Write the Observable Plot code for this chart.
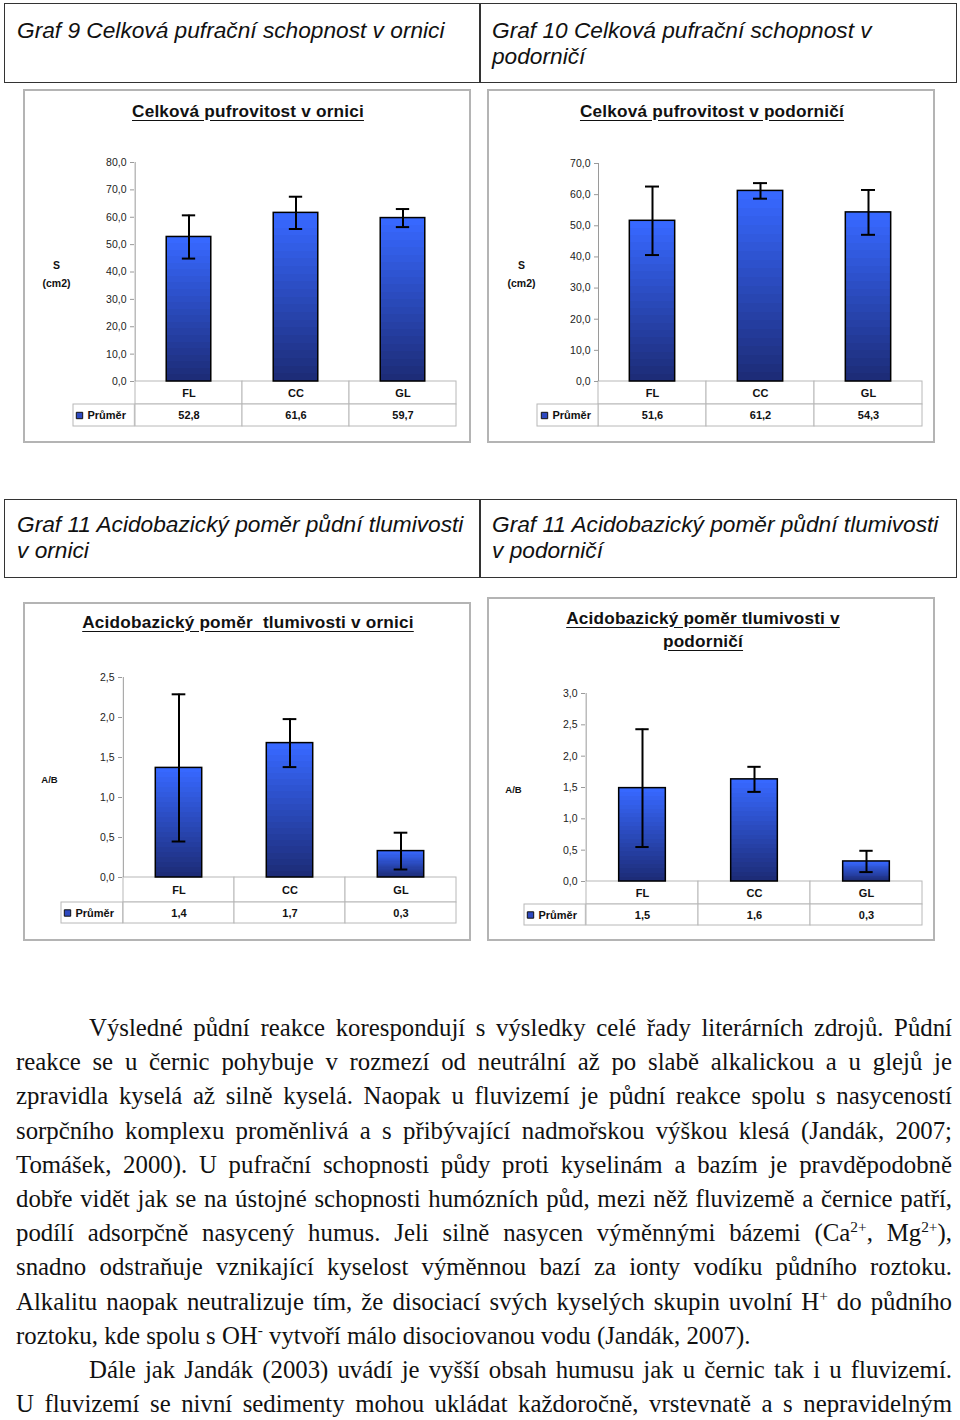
<!DOCTYPE html>
<html>
<head>
<meta charset="utf-8">
<script src="https://cdn.jsdelivr.net/npm/d3@7"></script>
<script src="https://cdn.jsdelivr.net/npm/@observablehq/plot@0.6"></script>
<style>
  html, body { margin: 0; padding: 0; background: #fff; }
  body { width: 960px; height: 1420px; position: relative; overflow: hidden; font-family: "Liberation Sans", Arial, sans-serif; }
  .hdr { position: absolute; box-sizing: border-box; border: 1.5px solid #333; font-style: italic; font-size: 22.7px; line-height: 26px; color: #111; padding-left: 12px; }
  .frame { position: absolute; box-sizing: border-box; border: 2px solid #b4b4b4; }
  .ctitle { position: absolute; font-weight: bold; font-size: 17.2px; letter-spacing: 0.2px; text-decoration: underline; text-underline-offset: 3px; text-align: center; color: #111; line-height: 23px; }
  .para { position: absolute; left: 16px; width: 936px; font-family: "Liberation Serif", "Times New Roman", serif; font-size: 24.8px; line-height: 34.2px; color: #111; }
  .para div { text-align: justify; text-align-last: justify; white-space: nowrap; word-spacing: -2px; }
  .para div.last { text-align-last: left; word-spacing: 0; }
  .para div.ind { padding-left: 73px; }
  sup { font-size: 0.62em; line-height: 0; vertical-align: 0.6em; }
  svg { position: absolute; }
</style>
</head>
<body>
<div class="hdr" style="left:4px;top:3px;width:477px;height:80px;padding-top:13px;">Graf 9 Celková pufrační schopnost v ornici</div>
<div class="hdr" style="left:479px;top:3px;width:478px;height:80px;padding-top:13px;">Graf 10 Celková pufrační schopnost v<br>podorničí</div>
<div class="hdr" style="left:4px;top:499px;width:477px;height:79px;padding-top:11px;">Graf 11 Acidobazický poměr půdní tlumivosti<br>v ornici</div>
<div class="hdr" style="left:479px;top:499px;width:478px;height:79px;padding-top:11px;">Graf 11 Acidobazický poměr půdní tlumivosti<br>v podorničí</div>

<div class="frame" style="left:23px;top:89px;width:448px;height:354px;"></div>
<div class="frame" style="left:487px;top:89px;width:448px;height:354px;"></div>
<div class="frame" style="left:23px;top:602px;width:448px;height:339px;"></div>
<div class="frame" style="left:487px;top:597px;width:448px;height:344px;"></div>

<div class="ctitle" style="left:23px;top:100px;width:450px;">Celková pufrovitost v ornici</div>
<div class="ctitle" style="left:487px;top:100px;width:450px;">Celková pufrovitost v podorničí</div>
<div class="ctitle" style="left:23px;top:611px;width:450px;">Acidobazický poměr&nbsp; tlumivosti v ornici</div>
<div class="ctitle" style="left:478px;top:607px;width:450px;">Acidobazický poměr tlumivosti v<br>podorničí</div>

<div class="para" style="top:1011px;">
  <div class="ind">Výsledné půdní reakce korespondují s výsledky celé řady literárních zdrojů. Půdní</div>
  <div>reakce se u černic pohybuje v rozmezí od neutrální až po slabě alkalickou a u glejů je</div>
  <div>zpravidla kyselá až silně kyselá. Naopak u fluvizemí je půdní reakce spolu s nasyceností</div>
  <div>sorpčního komplexu proměnlivá a s přibývající nadmořskou výškou klesá (Jandák, 2007;</div>
  <div>Tomášek, 2000). U pufrační schopnosti půdy proti kyselinám a bazím je pravděpodobně</div>
  <div>dobře vidět jak se na ústojné schopnosti humózních půd, mezi něž fluvizemě a černice patří,</div>
  <div>podílí adsorpčně nasycený humus. Jeli silně nasycen výměnnými bázemi (Ca<sup>2+</sup>, Mg<sup>2+</sup>),</div>
  <div>snadno odstraňuje vznikající kyselost výměnnou bazí za ionty vodíku půdního roztoku.</div>
  <div>Alkalitu naopak neutralizuje tím, že disociací svých kyselých skupin uvolní H<sup>+</sup> do půdního</div>
  <div class="last">roztoku, kde spolu s OH<sup>-</sup> vytvoří málo disociovanou vodu (Jandák, 2007).</div>
  <div class="ind">Dále jak Jandák (2003) uvádí je vyšší obsah humusu jak u černic tak i u fluvizemí.</div>
  <div>U fluvizemí se nivní sedimenty mohou ukládat každoročně, vrstevnatě a s nepravidelným</div>
</div>

<script>
// ---------------- data ----------------
const categories = ["FL", "CC", "GL"];
const legendLabel = "Průměr";

const means9 = [52.8, 61.6, 59.7];
const errors9 = [7.9, 5.9, 3.3];
const ticks9 = [0, 10, 20, 30, 40, 50, 60, 70, 80];
const yLabel9 = "S\n(cm2)";

const means10 = [51.6, 61.2, 54.3];
const errors10 = [11.0, 2.5, 7.2];
const ticks10 = [0, 10, 20, 30, 40, 50, 60, 70];
const yLabel10 = "S\n(cm2)";

const means11a = [1.37, 1.68, 0.33];
const errors11a = [0.92, 0.30, 0.23];
const ticks11a = [0, 0.5, 1.0, 1.5, 2.0, 2.5];
const yLabel11a = "A/B";

const means11b = [1.49, 1.63, 0.32];
const errors11b = [0.94, 0.20, 0.17];
const ticks11b = [0, 0.5, 1.0, 1.5, 2.0, 2.5, 3.0];
const yLabel11b = "A/B";

// ---------------- layout (page pixels) ----------------
const layouts = {
  c9:   {frameLeft: 23,  axisX: 134, rightX: 457, topY: 162, zeroY: 381, row1Y: 404, row2Y: 426, legendX: 72,  labelX: 56,  labelSize: 10.5},
  c10:  {frameLeft: 487, axisX: 598, rightX: 922, topY: 163, zeroY: 381, row1Y: 404, row2Y: 426, legendX: 537, labelX: 521, labelSize: 10.5},
  c11a: {frameLeft: 23,  axisX: 122, rightX: 456, topY: 677, zeroY: 877, row1Y: 902, row2Y: 923, legendX: 60,  labelX: 49,  labelSize: 9.5},
  c11b: {frameLeft: 487, axisX: 585, rightX: 923, topY: 693, zeroY: 881, row1Y: 904, row2Y: 925, legendX: 523, labelX: 513, labelSize: 9.5}
};

const fmt = d => d3.format(".1f")(d).replace(".", ",");

function drawChart(id, means, errors, ticks, yLabel, L) {
  const svgLeft = L.frameLeft + 2;
  const svgTop = L.topY - 14;
  const width = L.rightX + 8 - svgLeft;
  const height = L.row2Y + 4 - svgTop;
  const marginLeft = L.axisX - svgLeft;
  const marginRight = svgLeft + width - L.rightX;
  const marginTop = L.topY - svgTop;
  const marginBottom = svgTop + height - L.row2Y;
  const yMax = ticks[ticks.length - 1];
  const ppu = (L.zeroY - L.topY) / yMax;
  const r1 = -(L.row1Y - L.zeroY) / ppu;
  const r2 = -(L.row2Y - L.zeroY) / ppu;
  const bw = (L.rightX - L.axisX) / categories.length;
  const barInset = bw * 0.29;
  const capInset = (bw - 14) / 2;
  const legendOffset = L.axisX - L.legendX;
  const rows = categories.map((c, i) => ({cat: c, mean: means[i], err: errors[i]}));
  const gradId = "grad-" + id;
  const tableStroke = "#b8b8b8";

  const defs = () => {
    const d = d3.create("svg:defs");
    const g = d.append("linearGradient").attr("id", gradId)
      .attr("x1", 0).attr("y1", 0).attr("x2", 0).attr("y2", 1);
    const n = 22;
    const interp = d3.interpolateRgb("#3768ff", "#1d2c78");
    for (let k = 0; k < n; k++) {
      const c = interp(k / (n - 1));
      g.append("stop").attr("offset", k / n).attr("stop-color", c);
      g.append("stop").attr("offset", (k + 1) / n).attr("stop-color", c);
    }
    return d.node();
  };

  const svg = Plot.plot({
    width, height, marginLeft, marginRight, marginTop, marginBottom,
    x: {type: "band", domain: categories, padding: 0, axis: null},
    y: {domain: [r2, yMax], label: null},
    style: {fontFamily: "'Liberation Sans', Arial, sans-serif", fontSize: "10.5px", color: "#222", background: "transparent", overflow: "visible"},
    marks: [
      defs,
      // data table cells
      Plot.barY(rows, {x: "cat", y1: 0, y2: r1, fill: "white", stroke: tableStroke}),
      Plot.barY(rows, {x: "cat", y1: r1, y2: r2, fill: "white", stroke: tableStroke}),
      Plot.barY([categories[0]], {x: d => d, y1: r1, y2: r2, insetRight: bw, insetLeft: -legendOffset, fill: "white", stroke: tableStroke}),
      Plot.text(rows, {x: "cat", y: r1 / 2, text: "cat", fontWeight: "bold", fontSize: 11, fill: "#111"}),
      Plot.text(rows, {x: "cat", y: (r1 + r2) / 2, text: d => fmt(d.mean), fontWeight: "bold", fontSize: 11, fill: "#111"}),
      Plot.dot([legendLabel], {frameAnchor: "left", y: (r1 + r2) / 2, dx: -legendOffset + 7, symbol: "square", r: 3.6, fill: "#2d49c0", stroke: "#111", strokeWidth: 1}),
      Plot.text([legendLabel], {frameAnchor: "left", y: (r1 + r2) / 2, dx: -legendOffset + 15, text: d => d, textAnchor: "start", fontWeight: "bold", fontSize: 11, fill: "#111"}),
      // y axis
      Plot.ruleX([categories[0]], {x: d => d, y1: 0, y2: yMax, dx: -bw / 2, stroke: "#9a9a9a"}),
      Plot.axisY({ticks, tickFormat: fmt, tickSize: 4, tickPadding: 4, stroke: "#9a9a9a", fill: "#222", fontSize: 10.5, label: null}),
      Plot.text([yLabel], {frameAnchor: "left", y: yMax / 2, dx: -(L.axisX - L.labelX), text: d => d, textAnchor: "middle", fontWeight: "bold", fontSize: L.labelSize, lineHeight: 1.7, fill: "#111"}),
      // bars
      Plot.barY(rows, {x: "cat", y: "mean", insetLeft: barInset, insetRight: barInset, fill: `url(#${gradId})`, stroke: "#000", strokeWidth: 1.5}),
      // error bars
      Plot.ruleX(rows, {x: "cat", y1: d => d.mean - d.err, y2: d => d.mean + d.err, stroke: "#000", strokeWidth: 2}),
      Plot.tickY(rows, {x: "cat", y: d => d.mean + d.err, insetLeft: capInset, insetRight: capInset, stroke: "#000", strokeWidth: 2}),
      Plot.tickY(rows, {x: "cat", y: d => d.mean - d.err, insetLeft: capInset, insetRight: capInset, stroke: "#000", strokeWidth: 2})
    ]
  });
  svg.style.left = svgLeft + "px";
  svg.style.top = svgTop + "px";
  document.body.appendChild(svg);
}

drawChart("c9", means9, errors9, ticks9, yLabel9, layouts.c9);
drawChart("c10", means10, errors10, ticks10, yLabel10, layouts.c10);
drawChart("c11a", means11a, errors11a, ticks11a, yLabel11a, layouts.c11a);
drawChart("c11b", means11b, errors11b, ticks11b, yLabel11b, layouts.c11b);
</script>
</body>
</html>
